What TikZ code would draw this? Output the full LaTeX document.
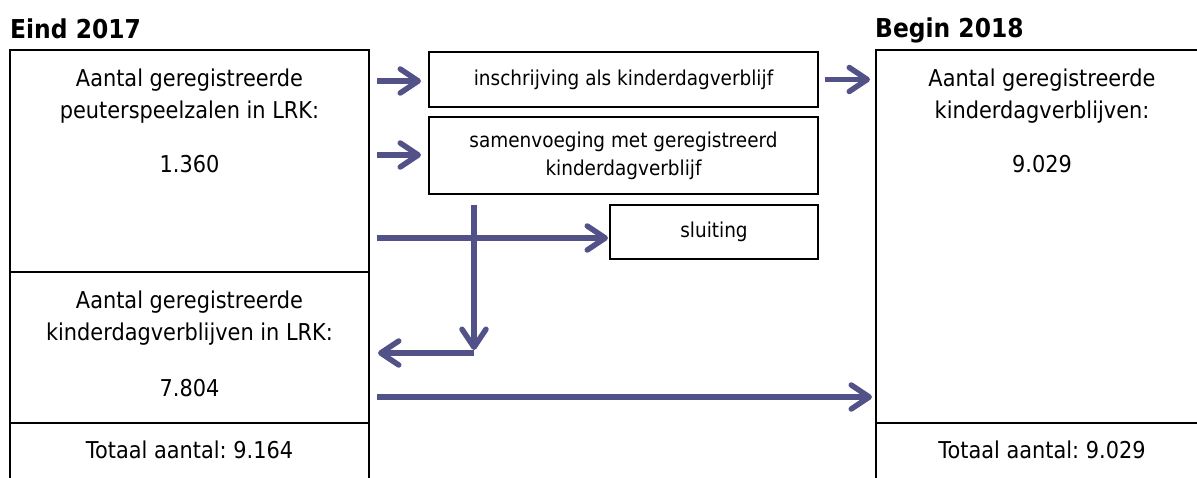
\documentclass[tikz,border=0pt]{standalone}
\usepackage{fontspec}
\setmainfont{DejaVu Sans}[FakeStretch=0.9]
\usetikzlibrary{arrows.meta}
\definecolor{flowblue}{RGB}{82,82,137}
\frenchspacing

\begin{document}
\begin{tikzpicture}
[x=1pt,y=-1pt,
 frame/.style={draw,line width=2pt,inner sep=0pt,outer sep=0pt},
 boxtext/.style={align=center,inner sep=0pt,font=\fontsize{23.2}{32}\selectfont},
 smallbox/.style={draw,line width=2pt,align=center,inner sep=0pt,outer sep=0pt,font=\fontsize{20.5}{28}\selectfont},
 title/.style={anchor=base west,inner sep=0pt,font=\fontsize{26}{30}\selectfont\bfseries},
 flow/.style={draw=flowblue,line width=5.5pt,-{Straight Barb[length=18pt,width=24pt,round]}}]
\useasboundingbox (0,0) rectangle (1197,478);
\node[title] (eind) at (10,39) {Eind 2017};
\node[title] (begin) at (875,38) {Begin 2018};
% large boxes
\node[frame,minimum width=359pt,minimum height=222pt] (pzbox) at (189.5,161) {};
\node[frame,minimum width=359pt,minimum height=151pt] (kdvbox) at (189.5,347.5) {};
\node[frame,minimum width=332pt,minimum height=373pt] (rbox) at (1042,236.5) {};
\draw[line width=2pt] (kdvbox.south west) -- ++(0,60);
\draw[line width=2pt] (kdvbox.south east) -- ++(0,60);
\draw[line width=2pt] (rbox.south west) -- ++(0,60);
\node[boxtext] (pzlabel) at (189.5,96.3) {Aantal geregistreerde\\peuterspeelzalen in LRK:};
\node[boxtext,anchor=base] (pzcount) at (189.5,173) {1.360};
\node[boxtext] (kdvlabel) at (189.5,318.5) {Aantal geregistreerde\\kinderdagverblijven in LRK:};
\node[boxtext,anchor=base] (kdvcount) at (189.5,396) {7.804};
\node[boxtext,anchor=base] (ltotal) at (189.5,458) {Totaal aantal: 9.164};
\node[boxtext] (rlabel) at (1042,96.3) {Aantal geregistreerde\\kinderdagverblijven:};
\node[boxtext,anchor=base] (rcount) at (1042,173) {9.029};
\node[boxtext,anchor=base] (rtotal) at (1042,458) {Totaal aantal: 9.029};
% small boxes
\node[smallbox,minimum width=389pt,minimum height=55pt] (inschr) at (623.5,79.5) {inschrijving als kinderdagverblijf};
\node[smallbox,minimum width=389pt,minimum height=77pt] (samen) at (623.5,155.5) {samenvoeging met geregistreerd\\kinderdagverblijf};
\node[smallbox,minimum width=208pt,minimum height=54pt] (sluit) at (714,232) {sluiting};
% flows
\coordinate (from1) at (377,81);
\coordinate (from2) at (377,155);
\coordinate (from3) at (377,238);
\coordinate (from4) at (377,397);
\coordinate (drop) at (474,205);
\coordinate (dropend) at (474,350);
\coordinate (bend) at (474,353);
\coordinate (back) at (378,353);
\draw[flow,shorten >=8pt] (from1) -- (from1 -| inschr.west);
\draw[flow,shorten >=8pt] (from2) -- (from2 -| samen.west);
\draw[flow,shorten >=2pt] (from3) -- (from3 -| sluit.west);
\draw[flow] (drop) -- (dropend);
\draw[flow] (bend) -- (back);
\draw[flow,shorten <=7pt,shorten >=6pt] (inschr.east) -- (inschr.east -| rbox.west);
\draw[flow,shorten >=4pt] (from4) -- (from4 -| rbox.west);
\end{tikzpicture}
\end{document}
